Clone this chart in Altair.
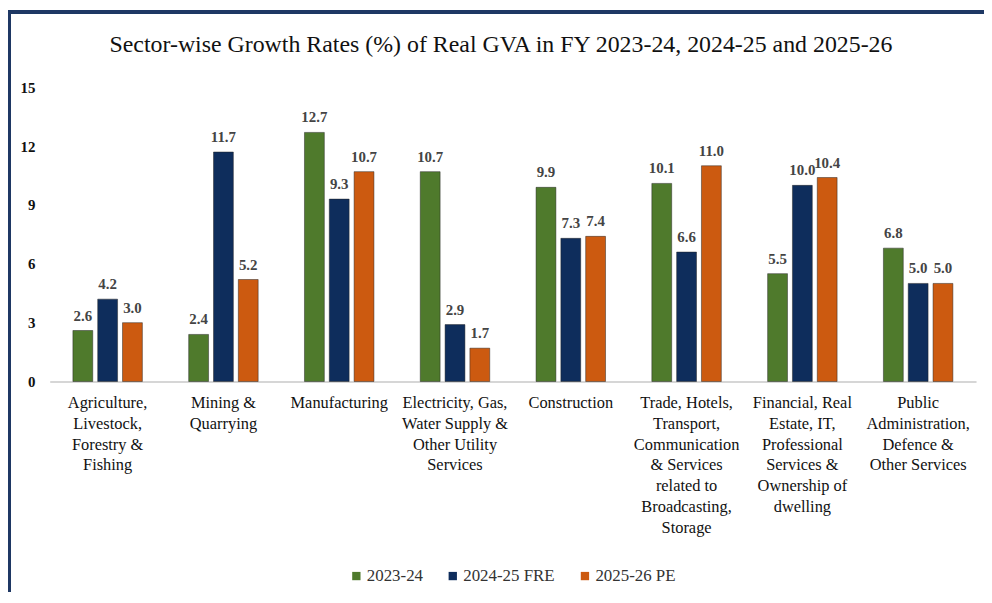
import altair as alt
import pandas as pd

sectors = [
    "Agriculture,\nLivestock,\nForestry &\nFishing",
    "Mining &\nQuarrying",
    "Manufacturing",
    "Electricity, Gas,\nWater Supply &\nOther Utility\nServices",
    "Construction",
    "Trade, Hotels,\nTransport,\nCommunication\n& Services\nrelated to\nBroadcasting,\nStorage",
    "Financial, Real\nEstate, IT,\nProfessional\nServices &\nOwnership of\ndwelling",
    "Public\nAdministration,\nDefence &\nOther Services",
]
series = ["2023-24", "2024-25 FRE", "2025-26 PE"]
v_2023_24 = [2.6, 2.4, 12.7, 10.7, 9.9, 10.1, 5.5, 6.8]
v_2024_25 = [4.2, 11.7, 9.3, 2.9, 7.3, 6.6, 10.0, 5.0]
v_2025_26 = [3.0, 5.2, 10.7, 1.7, 7.4, 11.0, 10.4, 5.0]
colors = ["#4F7A2C", "#0E2D5C", "#CC5A10"]
y_ticks = [0, 3, 6, 9, 12, 15]
title_text = "Sector-wise Growth Rates (%) of Real GVA in FY 2023-24, 2024-25 and 2025-26"

rows = []
for name, vals in zip(series, [v_2023_24, v_2024_25, v_2025_26]):
    for s, v in zip(sectors, vals):
        rows.append({"Sector": s, "Series": name, "Value": v})
df = pd.DataFrame(rows)

W, H = 932, 296
FONT = "Liberation Serif, serif"

x = alt.X("Sector:N", sort=sectors, title=None,
          scale=alt.Scale(paddingInner=0.4, paddingOuter=0.2),
          axis=alt.Axis(labelAngle=0, labelExpr="split(datum.label, '\\n')",
                        labelFontSize=16.5, labelLineHeight=21, labelColor="#111111",
                        labelFont=FONT, labelPadding=13, ticks=False,
                        domainColor="#C8C8C8", domainWidth=1.5, labelLimit=200))
xo = alt.XOffset("Series:N", sort=series, scale=alt.Scale(paddingInner=0.2))
y = alt.Y("Value:Q", title=None,
          scale=alt.Scale(domain=[0, 15], nice=False),
          axis=alt.Axis(values=y_ticks, grid=False, domain=False, ticks=False,
                        labelFontSize=15, labelFontWeight="bold", labelFont=FONT,
                        labelColor="#111111", labelPadding=15))
color = alt.Color("Series:N", sort=series,
                  scale=alt.Scale(domain=series, range=colors),
                  legend=alt.Legend(title=None, orient="none", direction="horizontal",
                                    legendX=300, legendY=483, symbolType="square",
                                    symbolSize=70, symbolStrokeWidth=0,
                                    labelFontSize=17, labelFont=FONT,
                                    labelColor="#333333", columnPadding=21,
                                    labelOffset=2))

bars = alt.Chart(df).mark_bar(stroke="#222222", strokeWidth=0.8, strokeOpacity=0.6).encode(
    x=x, xOffset=xo, y=y, color=color)

labels = alt.Chart(df).mark_text(baseline="bottom", dy=-7, fontSize=15,
                                 fontWeight="bold", font=FONT, color="#444444").encode(
    x=alt.X("Sector:N", sort=sectors), xOffset=alt.XOffset("Series:N", sort=series),
    y="Value:Q", text=alt.Text("Value:Q", format=".1f"))

title = alt.Chart(pd.DataFrame({"t": [title_text]})).mark_text(
    font=FONT, fontSize=24, color="#111111", baseline="middle", align="center").encode(
    x=alt.value(W / 2 - 12), y=alt.value(-43), text="t:N")

border_top = alt.Chart(df).mark_rule(color="#1F3864", strokeWidth=3).encode(
    x=alt.value(-42), x2=alt.value(W + 60), y=alt.value(-76))
border_left = alt.Chart(df).mark_rule(color="#1F3864", strokeWidth=3).encode(
    x=alt.value(-41), y=alt.value(-77), y2=alt.value(H + 240))

chart = alt.layer(border_top, border_left, bars, labels, title).properties(
    width=W, height=H,
    autosize=alt.AutoSizeParams(type="none"),
    padding={"left": 42, "top": 78, "right": 8, "bottom": 210},
).configure_view(stroke=None)

chart.save("out.html", embed_options={"renderer": "svg", "actions": False})
